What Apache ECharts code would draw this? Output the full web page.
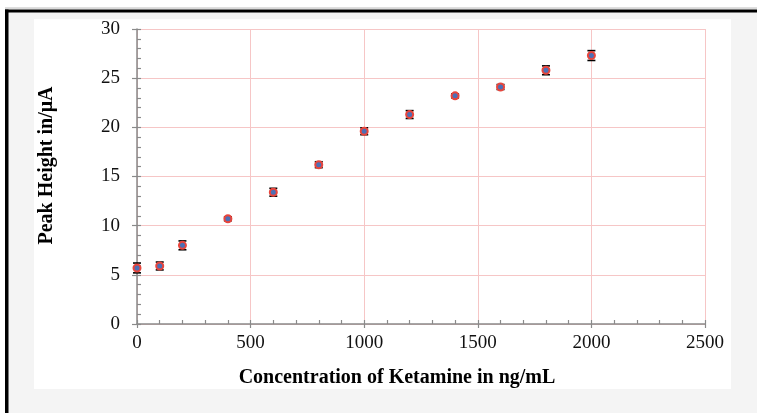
<!DOCTYPE html>
<html>
<head>
<meta charset="utf-8">
<title>Ketamine</title>
<script src="https://cdn.jsdelivr.net/npm/echarts@6/dist/echarts.min.js"></script>
<style>
  html, body { margin: 0; padding: 0; background: #fff; }
  #main { width: 757px; height: 413px; }
</style>
</head>
<body>
<div id="main"></div>
<script>
// 数据
var concentration = [0, 100, 200, 400, 600, 800, 1000, 1200, 1400, 1600, 1800, 2000];
var peakHeight = [5.7, 5.9, 8.0, 10.7, 13.4, 16.2, 19.6, 21.3, 23.2, 24.1, 25.8, 27.3];
var errorSize = [0.5, 0.4, 0.45, 0.2, 0.4, 0.3, 0.35, 0.4, 0.2, 0.25, 0.45, 0.5];
var xTicks = [0, 500, 1000, 1500, 2000, 2500];
var yTicks = [0, 5, 10, 15, 20, 25, 30];

var myChart = echarts.init(document.getElementById('main'));

var points = concentration.map(function (x, i) { return [x, peakHeight[i]]; });
var bars = concentration.map(function (x, i) {
  return [x, peakHeight[i] - errorSize[i], peakHeight[i] + errorSize[i]];
});

var axisGray = '#8a8a8a';
var fontFam = '"Liberation Serif", "Times New Roman", serif';

var option = {
  backgroundColor: '#fff',
  animation: false,
  graphic: [
    // 外框
    { type: 'rect', shape: { x: 5, y: 8, width: 752, height: 405 }, style: { fill: '#f4f4f4' }, z: -10 },
    { type: 'rect', shape: { x: 5, y: 7.5, width: 752, height: 1 }, style: { fill: '#bdbdbd' }, z: -9 },
    { type: 'rect', shape: { x: 5, y: 9.5, width: 752, height: 3 }, style: { fill: '#000' }, z: -9 },
    { type: 'rect', shape: { x: 5, y: 9.5, width: 3.5, height: 404 }, style: { fill: '#000' }, z: -9 },
    // 白色面板
    { type: 'rect', shape: { x: 34, y: 19, width: 697, height: 370 }, style: { fill: '#fff' }, z: -8 }
  ],
  grid: { left: 137, right: 52, top: 29, bottom: 89, containLabel: false },
  xAxis: [{
    type: 'value',
    min: xTicks[0],
    max: xTicks[xTicks.length - 1],
    interval: 500,
    name: 'Concentration of Ketamine in ng/mL',
    nameLocation: 'middle',
    nameGap: 44,
    nameTextStyle: { fontFamily: fontFam, fontWeight: 'bold', fontSize: 20, color: '#000', padding: [0, 48, 0, 0] },
    axisLine: { show: true, lineStyle: { color: axisGray, width: 1.5 } },
    axisTick: { show: true, inside: true, length: 4, lineStyle: { color: axisGray, width: 1.2 } },
    minorTick: { show: true, splitNumber: 5, length: 4, lineStyle: { color: axisGray, width: 1.2 } },
    axisLabel: { fontFamily: fontFam, fontSize: 19, color: '#111', margin: 10, formatter: function (v) { return String(v); } },
    splitLine: { show: true, lineStyle: { color: '#f6c6c6', width: 1 } }
  }, {
    // 向外的主刻度
    type: 'value', position: 'bottom',
    min: xTicks[0], max: xTicks[xTicks.length - 1], interval: 500,
    axisLine: { show: false },
    axisTick: { show: true, inside: false, length: 4, lineStyle: { color: axisGray, width: 1.2 } },
    axisLabel: { show: false },
    splitLine: { show: false }
  }],
  yAxis: [{
    type: 'value',
    min: yTicks[0],
    max: yTicks[yTicks.length - 1],
    interval: 5,
    name: 'Peak Height in/μA',
    nameLocation: 'middle',
    nameGap: 80,
    nameTextStyle: { fontFamily: fontFam, fontWeight: 'bold', fontSize: 20, color: '#000', padding: [0, 0, 0, 22] },
    axisLine: { show: true, lineStyle: { color: axisGray, width: 1.5 } },
    axisTick: { show: true, inside: true, length: 4, lineStyle: { color: axisGray, width: 1.2 } },
    minorTick: { show: true, splitNumber: 5, length: 4, lineStyle: { color: axisGray, width: 1.2 } },
    axisLabel: { fontFamily: fontFam, fontSize: 19, color: '#111', margin: 17 },
    splitLine: { show: true, lineStyle: { color: '#f6c6c6', width: 1 } }
  }, {
    type: 'value', position: 'left',
    min: yTicks[0], max: yTicks[yTicks.length - 1], interval: 5,
    axisLine: { show: false },
    axisTick: { show: true, inside: false, length: 5, lineStyle: { color: axisGray, width: 1.2 } },
    axisLabel: { show: false },
    splitLine: { show: false }
  }],
  series: [
    {
      name: 'error',
      type: 'custom',
      xAxisIndex: 0, yAxisIndex: 0,
      data: bars,
      z: 3,
      renderItem: function (params, api) {
        var top = api.coord([api.value(0), api.value(2)]);
        var bot = api.coord([api.value(0), api.value(1)]);
        var w = 4;
        var st = { stroke: '#000', lineWidth: 1.6 };
        return {
          type: 'group',
          children: [
            { type: 'line', shape: { x1: top[0], y1: top[1], x2: bot[0], y2: bot[1] }, style: st },
            { type: 'line', shape: { x1: top[0] - w, y1: top[1], x2: top[0] + w, y2: top[1] }, style: st },
            { type: 'line', shape: { x1: bot[0] - w, y1: bot[1], x2: bot[0] + w, y2: bot[1] }, style: st }
          ]
        };
      }
    },
    {
      name: 'Peak Height',
      type: 'scatter',
      xAxisIndex: 0, yAxisIndex: 0,
      data: points,
      symbol: 'circle',
      symbolSize: 7,
      z: 4,
      itemStyle: { color: '#4d6fb5', borderColor: '#e8453c', borderWidth: 2, opacity: 1 }
    }
  ]
};

myChart.setOption(option);
</script>
</body>
</html>
